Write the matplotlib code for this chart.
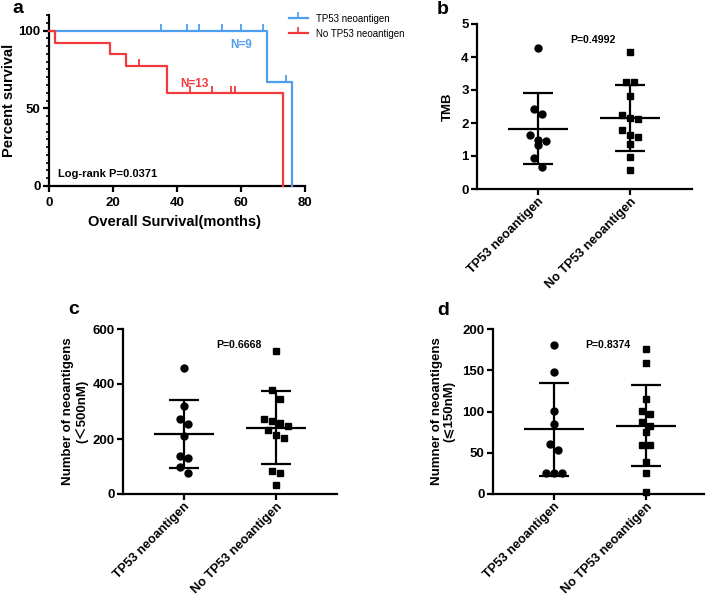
import numpy as np
import matplotlib
matplotlib.use('Agg')
import matplotlib.pyplot as plt
from matplotlib.lines import Line2D

plt.rcParams['font.family'] = ['Liberation Sans', 'Noto Sans CJK SC', 'DejaVu Sans']
plt.rcParams['font.weight'] = 'bold'
plt.rcParams['axes.labelweight'] = 'bold'

# ---- panel a : Kaplan-Meier ----
blue_time = [0, 68, 76]
blue_surv = [100, 66.7, 0]
blue_cens = [35, 43, 47, 54, 60, 67, 74]
red_time = [0, 2, 19, 24, 37, 73]
red_surv = [100, 92.3, 84.6, 76.9, 59.8, 0]
red_cens = [28, 44, 51, 57, 58]
km_labels = ['TP53 neoantigen', 'No TP53 neoantigen']

# ---- panels b, c, d ----
groups = ['TP53 neoantigen', 'No TP53 neoantigen']
tmb_tp53 = [4.28, 2.42, 2.27, 1.49, 1.45, 1.63, 1.34, 0.94, 0.68]
tmb_no = [4.14, 3.24, 3.24, 2.82, 2.23, 2.15, 2.12, 1.78, 1.65, 1.57, 1.36, 0.98, 0.58]
n500_tp53 = [458, 320, 273, 255, 211, 139, 130, 97, 75]
n500_no = [521, 379, 347, 274, 265, 258, 233, 248, 213, 202, 85, 76, 32]
n150_tp53 = [181, 148, 101, 85, 61, 53, 26, 25, 25]
n150_no = [176, 159, 115, 101, 97, 87, 83, 75, 59, 59, 39, 26, 2]

blue = '#4f9ef0'
red = '#f03a3c'

fig = plt.figure(figsize=(7.08, 5.98), dpi=100)


def px_axes(l, t, r, b):
    return fig.add_axes([l / 708, 1 - b / 598, (r - l) / 708, (b - t) / 598])


def style(ax):
    for s in ['top', 'right']:
        ax.spines[s].set_visible(False)
    for s in ['left', 'bottom']:
        ax.spines[s].set_linewidth(1.6)
    ax.tick_params(width=1.6, length=4, labelsize=9.5, pad=2)
    ax.tick_params(which='minor', width=1.2, length=2.5)


def level_at(t, times, surv):
    idx = np.searchsorted(times, t, side='right') - 1
    return [surv[i] for i in idx]


# panel a
ax = px_axes(49, 15, 305, 186)
style(ax)
ax.step(blue_time, blue_surv, where='post', color=blue, lw=1.6, clip_on=False, zorder=3)
ax.step(red_time, red_surv, where='post', color=red, lw=1.6, clip_on=False, zorder=3)
ax.plot(blue_cens, level_at(blue_cens, blue_time, blue_surv), ls='none', marker=2,
        ms=5, mew=1.3, color=blue, zorder=3)
ax.plot(red_cens, level_at(red_cens, red_time, red_surv), ls='none', marker=2,
        ms=5, mew=1.3, color=red, zorder=3)
ax.set_xlim(0, 80)
ax.set_ylim(0, 110)
ax.set_xticks([0, 20, 40, 60, 80])
ax.set_yticks([0, 50, 100])
ax.set_yticks(np.arange(0, 111, 5), minor=True)
ax.tick_params(axis='x', pad=4)
ax.set_xlabel('Overall Survival(months)', fontsize=10.5, va='center')
ax.set_ylabel('Percent survival', fontsize=10.5, va='center')
ax.xaxis.set_label_coords(0.49, -0.21)
ax.yaxis.set_label_coords(-0.155, 0.5)
ax.text(60, 91, 'N=9', color=blue, fontsize=8.5, ha='center', va='center')
ax.text(45.5, 65.6, 'N=13', color=red, fontsize=8.5, ha='center', va='center')
ax.text(2.8, 8, 'Log-rank P=0.0371', fontsize=8, ha='left', va='center')
handles = [Line2D([], [], color=blue, lw=1.6, marker=2, ms=4, mew=1.2),
           Line2D([], [], color=red, lw=1.6, marker=2, ms=4, mew=1.2)]
fig.legend(handles, km_labels, loc='upper left', bbox_to_anchor=(280 / 708, 1 - 5 / 598),
           frameon=False, handlelength=2.0, handletextpad=0.8, labelspacing=0.5,
           prop={'weight': 'normal', 'size': 7}, numpoints=1)


def swarm_px(vals, ppu, bin_px=9.0, step=8.0):
    # group points of similar height into rows, then spread each row sideways
    order = list(np.argsort(vals)[::-1])
    offs = np.zeros(len(vals))
    rows = []
    for i in order:
        if rows and (vals[rows[-1][0]] - vals[i]) * ppu < bin_px:
            rows[-1].append(i)
        else:
            rows.append([i])
    for row in rows:
        n = len(row)
        for j, i in enumerate(row):
            offs[i] = (j - (n - 1) / 2) * step
    return offs


def scatter_panel(box, a_vals, b_vals, ylim, yticks, ylabel, ylab_x, ptxt, pxy):
    l, t, r, b = box
    ax = px_axes(l, t, r, b)
    style(ax)
    xlim = (-61 / 92, (r - l - 61) / 92)
    ax.set_xlim(*xlim)
    ax.set_ylim(*ylim)
    ppu = (b - t) / (ylim[1] - ylim[0])
    for i, (vals, mk) in enumerate([(a_vals, 'o'), (b_vals, 's')]):
        vals = np.array(vals, dtype=float)
        offs = swarm_px(vals, ppu) / 92
        ax.plot(i + offs, vals, ls='none', marker=mk, ms=5 if mk == 'o' else 4.6,
                color='black', clip_on=False, zorder=3)
        m = vals.mean()
        sd = vals.std(ddof=1)
        ax.hlines(m, i - 0.33, i + 0.33, color='black', lw=1.6)
        ax.errorbar(i, m, yerr=sd, color='black', elinewidth=1.6, capsize=11,
                    capthick=1.6)
    ax.set_xticks([0, 1])
    ax.set_xticklabels(groups, rotation=45, ha='right', va='top',
                       rotation_mode='anchor', fontsize=9.2)
    ax.tick_params(axis='x', pad=1)
    ax.set_yticks(yticks)
    ax.set_ylabel(ylabel, fontsize=9.5, va='center', linespacing=1.1)
    ax.yaxis.set_label_coords(ylab_x, 0.5)
    ax.text(pxy[0], pxy[1], ptxt, fontsize=7.6, ha='left', va='center')
    return ax


scatter_panel((477, 24, 692, 189), tmb_tp53, tmb_no, (0, 5), [0, 1, 2, 3, 4, 5],
              'TMB', -0.135, 'P=0.4992', (0.35, 4.52))
scatter_panel((123, 329, 337, 494), n500_tp53, n500_no, (0, 600), [0, 200, 400, 600],
              'Number of neoantigens\n(\uff1c500nM)', -0.225, 'P=0.6668', (0.35, 542))
scatter_panel((493, 329, 704, 494), n150_tp53, n150_no, (0, 200), [0, 50, 100, 150, 200],
              'Numner of neoantigens\n(\u2a7d150nM)', -0.237, 'P=0.8374', (0.34, 180.6))

for letter, x, y in [('a', 12, 13), ('b', 437, 14), ('c', 68, 314), ('d', 437, 315)]:
    fig.text(x / 708, 1 - y / 598, letter, fontsize=14, fontweight='bold',
             ha='left', va='baseline')

fig.savefig('out.png', dpi=100)
